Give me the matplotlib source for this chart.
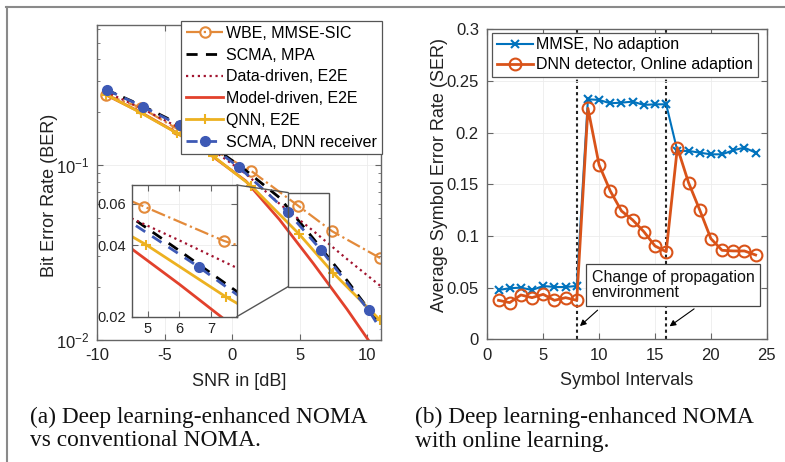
import numpy as np
import matplotlib.pyplot as plt
from matplotlib.lines import Line2D
from matplotlib.patches import Rectangle, ConnectionPatch

plt.rcParams['font.family'] = ['Liberation Sans', 'DejaVu Sans']
plt.rcParams['axes.unicode_minus'] = False

# (a) BER vs SNR
snr_wbe = [-9.35, -6.75, -4.1, -1.4, 1.4, 4.9, 7.4, 10.95]
ber_wbe = [0.251, 0.212, 0.161, 0.122, 0.0924, 0.0583, 0.0418, 0.0294]

snr_grid = [-9.4, -6.8, -4.2, -1.6, 1.0, 3.5, 6.0, 8.5, 11.0]
ber_mpa = [0.27, 0.22, 0.175, 0.13, 0.093, 0.065, 0.038, 0.0219, 0.0121]
ber_data = [0.262, 0.212, 0.167, 0.124, 0.089, 0.06, 0.042, 0.029, 0.0203]
ber_model = [0.252, 0.2, 0.154, 0.114, 0.081, 0.0487, 0.0274, 0.015, 0.0079]

snr_qnn = [-9.35, -6.75, -4.1, -1.4, 1.4, 4.95, 7.45, 10.95]
ber_qnn = [0.252, 0.198, 0.152, 0.112, 0.076, 0.0403, 0.0243, 0.013]

snr_dnn = [-9.3, -6.6, -3.9, -1.6, 0.5, 4.1, 6.6, 10.1, 11.0]
ber_dnn = [0.268, 0.215, 0.168, 0.128, 0.097, 0.054, 0.0325, 0.0148, 0.0115]

# (b) SER vs symbol interval
intervals = list(range(1, 25))
ser_mmse = [0.0477, 0.0494, 0.050, 0.0477, 0.0516, 0.0506, 0.0506, 0.0516,
            0.2323, 0.2316, 0.2284, 0.229, 0.230, 0.2268, 0.2274, 0.2274,
            0.1823, 0.1823, 0.1806, 0.179, 0.179, 0.1829, 0.1855, 0.1806]
ser_dnn = [0.0377, 0.0355, 0.0429, 0.0403, 0.0435, 0.0377, 0.0403, 0.0377,
           0.2235, 0.1687, 0.1435, 0.1242, 0.1155, 0.1042, 0.0903, 0.0848,
           0.1855, 0.1516, 0.1252, 0.0974, 0.0861, 0.0855, 0.0855, 0.0816]
change_points = [8, 16]

spine_c = '#666666'


def style_axes(a, fs=12, pad=5):
    for s in a.spines.values():
        s.set_color(spine_c)
        s.set_linewidth(1.0)
    a.tick_params(which='both', direction='in', top=True, right=True,
                  colors=spine_c, labelcolor='#222222', labelsize=fs, pad=pad)
    a.tick_params(which='major', length=4)
    a.tick_params(which='minor', length=2)


def draw_curves(a):
    a.plot(snr_wbe, ber_wbe, '-.', color='#E38A3A', lw=1.6, marker='o', ms=7.5,
           mfc='none', mew=1.5, label='WBE, MMSE-SIC')
    a.plot(snr_grid, ber_mpa, color='k', lw=2, dashes=(4, 3), label='SCMA, MPA')
    a.plot(snr_grid, ber_data, ':', color='#A2142F', lw=1.6, label='Data-driven, E2E')
    a.plot(snr_grid, ber_model, '-', color='#E2412C', lw=2, label='Model-driven, E2E')
    a.plot(snr_qnn, ber_qnn, '-', color='#EDB120', lw=2, marker='+', ms=7, mew=1.5,
           label='QNN, E2E')
    a.plot(snr_dnn, ber_dnn, color='#3D59B5', lw=2, dashes=(4, 3), marker='o', ms=7,
           markevery=list(range(len(snr_dnn) - 1)), label='SCMA, DNN receiver')


fig = plt.figure(figsize=(7.85, 4.62), dpi=100)

# ---- left panel
ax = fig.add_axes([0.124, 0.264, 0.361, 0.682])
draw_curves(ax)
ax.set_yscale('log')
ax.set_xlim(-10, 11)
ax.set_ylim(0.01, 0.63)
ax.set_xticks([-10, -5, 0, 5, 10])
ax.grid(True, color='#ececec', lw=0.6)
style_axes(ax, pad=6)
ax.set_xlabel('SNR in [dB]', fontsize=13, color='#222222', labelpad=7)
ax.set_ylabel('Bit Error Rate (BER)', fontsize=13, color='#222222')
ax.yaxis.set_label_coords(-0.14, 0.46)
leg = ax.legend(loc='upper right', bbox_to_anchor=(1.004, 1.012), borderaxespad=0,
                fontsize=11.5, handlelength=2.3, handletextpad=0.2, labelspacing=0.42,
                borderpad=0.3, fancybox=False, framealpha=1)
leg.get_frame().set_edgecolor('#555555')
leg.get_frame().set_linewidth(0.9)

# zoom box + inset
ax.add_patch(Rectangle((4.15, 0.0202), 7.2 - 4.15, 0.0695 - 0.0202, fill=False,
                       ec='#555555', lw=1.0, zorder=5))
axins = fig.add_axes([0.1678, 0.3145, 0.1338, 0.285])
draw_curves(axins)
axins.set_yscale('log')
axins.set_xlim(4.5, 7.8)
axins.set_ylim(0.02, 0.072)
axins.set_xticks([5, 6, 7])
axins.set_yticks([0.02, 0.04, 0.06])
axins.set_yticklabels(['0.02', '0.04', '0.06'])
axins.yaxis.set_minor_locator(plt.NullLocator())
axins.grid(True, color='#ececec', lw=0.6)
style_axes(axins, fs=10.5, pad=4)
for s in axins.spines.values():
    s.set_color('#555555')
for xa, xb in [((4.15, 0.0695), (1, 1)), ((4.15, 0.0202), (1, 0))]:
    fig.add_artist(ConnectionPatch(xyA=xa, coordsA=ax.transData, xyB=xb,
                                   coordsB=axins.transAxes, color='#555555', lw=1.0))

# ---- right panel
bx = fig.add_axes([0.6208, 0.2656, 0.356, 0.671])
bx.plot(intervals, ser_mmse, '-', color='#0072BD', lw=1.5, marker='x', ms=6, mew=1.5,
        label='MMSE, No adaption')
bx.plot(intervals, ser_dnn, '-', color='#D95319', lw=2, marker='o', ms=8.5, mfc='none',
        mew=1.5, label='DNN detector, Online adaption')
for cp in change_points:
    bx.axvline(cp, color='#222222', lw=1.5, ls=(0, (1.5, 1.5)), zorder=1)
bx.set_xlim(0, 25)
bx.set_ylim(0, 0.3)
bx.set_xticks([0, 5, 10, 15, 20, 25])
bx.set_yticks([0, 0.05, 0.1, 0.15, 0.2, 0.25, 0.3])
bx.set_yticklabels(['0', '0.05', '0.1', '0.15', '0.2', '0.25', '0.3'])
bx.grid(True, color='#ececec', lw=0.6)
style_axes(bx, pad=6)
bx.set_xlabel('Symbol Intervals', fontsize=13, color='#222222', labelpad=7)
bx.set_ylabel('Average Symbol Error Rate (SER)', fontsize=13, color='#222222')
bx.yaxis.set_label_coords(-0.14, 0.53)
leg2 = bx.legend(loc='upper left', bbox_to_anchor=(0.0157, 0.989), borderaxespad=0,
                 fontsize=11.5, handlelength=2.3, handletextpad=0.2, labelspacing=0.3,
                 borderpad=0.3, fancybox=False, framealpha=1)
leg2.get_frame().set_edgecolor('#555555')
leg2.get_frame().set_linewidth(0.9)

bx.text(9.32, 0.0525, 'Change of propagation\nenvironment', fontsize=11.5, va='center',
        ha='left', linespacing=1.05, color='#111111', zorder=6,
        bbox=dict(boxstyle='square,pad=0.35', fc='white', ec='#444444', lw=0.9))
bx.annotate('', xy=(8.1, 0.011), xytext=(10.05, 0.030),
            arrowprops=dict(arrowstyle='-|>', color='k', lw=0.8, mutation_scale=9))
bx.annotate('', xy=(16.1, 0.011), xytext=(18.7, 0.031),
            arrowprops=dict(arrowstyle='-|>', color='k', lw=0.8, mutation_scale=9))

# ---- captions
cap = dict(fontsize=16.8, family='Liberation Serif', color='#111111', va='center')
fig.text(30 / 785, 1 - 417 / 462, '(a) Deep learning-enhanced NOMA', **cap)
fig.text(30 / 785, 1 - 441 / 462, 'vs conventional NOMA.', **cap)
fig.text(415 / 785, 1 - 417 / 462, '(b) Deep learning-enhanced NOMA', **cap)
fig.text(415 / 785, 1 - 441 / 462, 'with online learning.', **cap)

# page border
fig.add_artist(Line2D([6 / 785, 1], [1 - 6.5 / 462] * 2, transform=fig.transFigure,
                      color='#8a8a8a', lw=1.5))
fig.add_artist(Line2D([7 / 785] * 2, [0, 1 - 6.5 / 462], transform=fig.transFigure,
                      color='#8a8a8a', lw=1.5))

fig.savefig('out.png', dpi=100)
